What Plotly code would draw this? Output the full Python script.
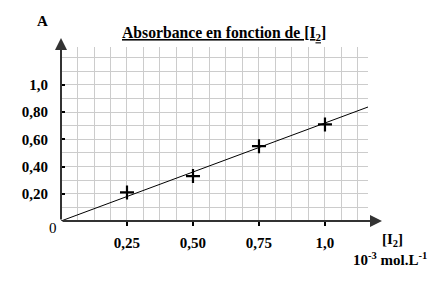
import numpy as np
import plotly.graph_objects as go

# data
conc = [0.25, 0.50, 0.75, 1.0]          # [I2] in 10^-3 mol/L
absorb = [0.21, 0.33, 0.55, 0.71]        # absorbance
fit_x = [0.0, 1.163]
fit_y = [0.0, 0.838]
x_tickvals = [0.25, 0.50, 0.75, 1.0]
x_ticktext = ["0,25", "0,50", "0,75", "1,0"]
y_tickvals = [0.2, 0.4, 0.6, 0.8, 1.0]
y_ticktext = ["0,20", "0,40", "0,60", "0,80", "1,0"]

FONT = "Liberation Serif"
XMAX, YMAX = 1.163, 1.279

fig = go.Figure()
fig.add_trace(go.Scatter(x=fit_x, y=fit_y, mode="lines",
                         line=dict(color="black", width=1), hoverinfo="skip"))
fig.add_trace(go.Scatter(x=conc, y=absorb, mode="markers",
                         marker=dict(symbol="cross-thin", size=10,
                                     line=dict(color="black", width=2.2))))

fig.update_layout(
    width=443, height=286,
    margin=dict(l=61, r=75, t=47, b=65),
    paper_bgcolor="white", plot_bgcolor="white",
    showlegend=False,
    font=dict(family=FONT, color="black", size=14),
    xaxis=dict(range=[0, XMAX], tickvals=x_tickvals,
               ticktext=["<b>%s</b>" % t for t in x_ticktext],
               showgrid=False, zeroline=False, showline=False,
               ticks="outside", ticklen=4, tickcolor="black", tickwidth=2,
               ticklabelstandoff=4,
               tickfont=dict(family=FONT, size=15),
               minor=dict(tickvals=list(np.arange(0.0625, XMAX, 0.0625)),
                          showgrid=True, gridcolor="#cccccc", gridwidth=1,
                          ticks="")),
    yaxis=dict(range=[0, YMAX], tickvals=y_tickvals,
               ticktext=["<b>%s</b>" % t for t in y_ticktext],
               showgrid=False, zeroline=False, showline=False,
               ticks="inside", ticklen=4, tickcolor="black", tickwidth=2,
               ticklabelstandoff=12,
               tickfont=dict(family=FONT, size=15),
               minor=dict(tickvals=list(np.arange(0.1, YMAX, 0.1)),
                          showgrid=True, gridcolor="#cccccc", gridwidth=1,
                          ticks="")),
)

# axes with arrows
fig.add_annotation(xref="paper", yref="paper", x=(382 - 61) / 307, y=0,
                   ax=-321, ay=0, axref="pixel", ayref="pixel",
                   showarrow=True, arrowhead=2, arrowsize=1.2, arrowwidth=2,
                   arrowcolor="#333333", text="")
fig.add_annotation(xref="paper", yref="paper", x=0, y=(221 - 38) / 174,
                   ax=0, ay=183, showarrow=True, arrowhead=2, arrowsize=1.2,
                   arrowwidth=2, arrowcolor="#333333", text="")

# texts
fig.add_annotation(xref="paper", yref="paper", x=(224 - 61) / 307, y=(221 - 33) / 174,
                   text="<b><u>Absorbance en fonction de [I<sub>2</sub>]</u></b>",
                   showarrow=False, font=dict(family=FONT, size=15.7), xanchor="center", yanchor="middle")
fig.add_annotation(xref="paper", yref="paper", x=(42 - 61) / 307, y=(221 - 21) / 174,
                   text="<b>A</b>", showarrow=False, font=dict(family=FONT, size=15),
                   xanchor="center", yanchor="middle")
fig.add_annotation(xref="paper", yref="paper", x=(53 - 61) / 307, y=(221 - 228) / 174,
                   text="0", showarrow=False, font=dict(family=FONT, size=15),
                   xanchor="center", yanchor="middle")
fig.add_annotation(xref="paper", yref="paper", x=(392 - 61) / 307, y=(221 - 240) / 174,
                   text="<b>[I<sub>2</sub>]</b>", showarrow=False, font=dict(family=FONT, size=15),
                   xanchor="center", yanchor="middle")
fig.add_annotation(xref="paper", yref="paper", x=(390 - 61) / 307, y=(221 - 259) / 174,
                   text="<b>10<sup>-3</sup> mol.L<sup>-1</sup></b>", showarrow=False,
                   font=dict(family=FONT, size=15), xanchor="center", yanchor="middle")

fig.write_html("out.html")
